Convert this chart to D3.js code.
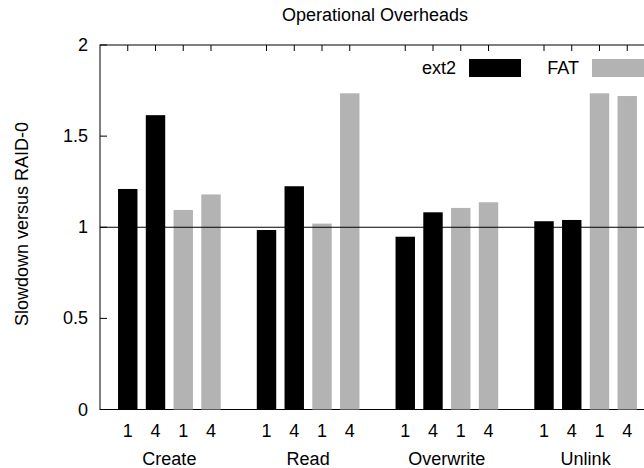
<!DOCTYPE html>
<html>
<head>
<meta charset="utf-8">
<script src="https://cdn.jsdelivr.net/npm/d3@7"></script>
<style>
  html, body { margin: 0; padding: 0; background: #fff; overflow: hidden; }
  text { font-family: "Liberation Sans", Arial, sans-serif; fill: #000; }
</style>
</head>
<body>
<svg id="chart" width="644" height="468"></svg>
<script>
// Operation groups and thread counts per bar
const categories = ["Create", "Read", "Overwrite", "Unlink"];
const threadLabels = ["1", "4"];
// Slowdown relative to RAID-0, one value per thread count
const ext2Values = [[1.21, 1.615], [0.985, 1.225], [0.948, 1.082], [1.033, 1.04]];
const fatValues  = [[1.095, 1.18], [1.02, 1.735], [1.106, 1.137], [1.735, 1.72]];
const yTicks = [0, 0.5, 1, 1.5, 2];
const yTickLabels = ["0", "0.5", "1", "1.5", "2"];
const seriesNames = ["ext2", "FAT"];
const seriesColors = ["#000000", "#b3b3b3"];

const svg = d3.select("#chart");
const plotLeft = 100, plotTop = 45, plotBottom = 409.5, plotRight = 655;

// Each group occupies 4 bar slots plus one empty slot
const x = d3.scaleLinear().domain([-1, 19]).range([plotLeft, plotRight]);
const y = d3.scaleLinear().domain([0, 2]).range([plotBottom, plotTop]);
const barW = (x(1) - x(0)) * 0.7;

const bars = [];
categories.forEach((cat, g) => {
  [ext2Values, fatValues].forEach((vals, s) => {
    vals[g].forEach((v, t) => {
      bars.push({ slot: g * 5 + s * 2 + t, value: v, series: s, label: threadLabels[t] });
    });
  });
});

// Frame
svg.append("rect")
  .attr("x", plotLeft).attr("y", plotTop)
  .attr("width", plotRight - plotLeft).attr("height", plotBottom - plotTop)
  .attr("fill", "none").attr("stroke", "#000").attr("stroke-width", 1);

// Bar-position ticks on the top edge
svg.append("g").selectAll("line").data(bars).join("line")
  .attr("x1", d => x(d.slot)).attr("x2", d => x(d.slot))
  .attr("y1", plotTop).attr("y2", plotTop + 6)
  .attr("stroke", "#000");

// Y axis ticks and labels
svg.append("g").selectAll("line").data(yTicks).join("line")
  .attr("x1", plotLeft).attr("x2", plotLeft + 7)
  .attr("y1", d => y(d)).attr("y2", d => y(d))
  .attr("stroke", "#000");
svg.append("g").selectAll("text").data(yTicks).join("text")
  .attr("x", 88).attr("y", d => y(d) + 6)
  .attr("text-anchor", "end").attr("font-size", 18)
  .text((d, i) => yTickLabels[i]);

// Bars
svg.append("g").selectAll("rect").data(bars).join("rect")
  .attr("x", d => x(d.slot) - barW / 2)
  .attr("width", barW)
  .attr("y", d => y(d.value))
  .attr("height", d => y(0) - y(d.value))
  .attr("fill", d => seriesColors[d.series]);

// Reference line at 1.0
svg.append("line")
  .attr("x1", plotLeft).attr("x2", plotRight)
  .attr("y1", y(1)).attr("y2", y(1))
  .attr("stroke", "#000").attr("stroke-width", 1);

// Thread-count labels under each bar
svg.append("g").selectAll("text").data(bars).join("text")
  .attr("x", d => x(d.slot)).attr("y", 436.5)
  .attr("text-anchor", "middle").attr("font-size", 18)
  .text(d => d.label);

// Group labels
svg.append("g").selectAll("text").data(categories).join("text")
  .attr("x", (d, g) => (x(g * 5) + x(g * 5 + 3)) / 2)
  .attr("y", 465)
  .attr("text-anchor", "middle").attr("font-size", 18)
  .text(d => d);

// Title
svg.append("text")
  .attr("x", 375).attr("y", 21)
  .attr("text-anchor", "middle").attr("font-size", 18)
  .text("Operational Overheads");

// Y axis title
svg.append("text")
  .attr("transform", "translate(28,224) rotate(-90)")
  .attr("text-anchor", "middle").attr("font-size", 18)
  .text("Slowdown versus RAID-0");

// Legend
const legendTextEnd = [456, 579];
const legendSwatch = [469, 592];
seriesNames.forEach((name, i) => {
  svg.append("text")
    .attr("x", legendTextEnd[i]).attr("y", 74)
    .attr("text-anchor", "end").attr("font-size", 18)
    .text(name);
  svg.append("rect")
    .attr("x", legendSwatch[i]).attr("y", 59)
    .attr("width", 52).attr("height", 18)
    .attr("fill", seriesColors[i]);
});
</script>
</body>
</html>
